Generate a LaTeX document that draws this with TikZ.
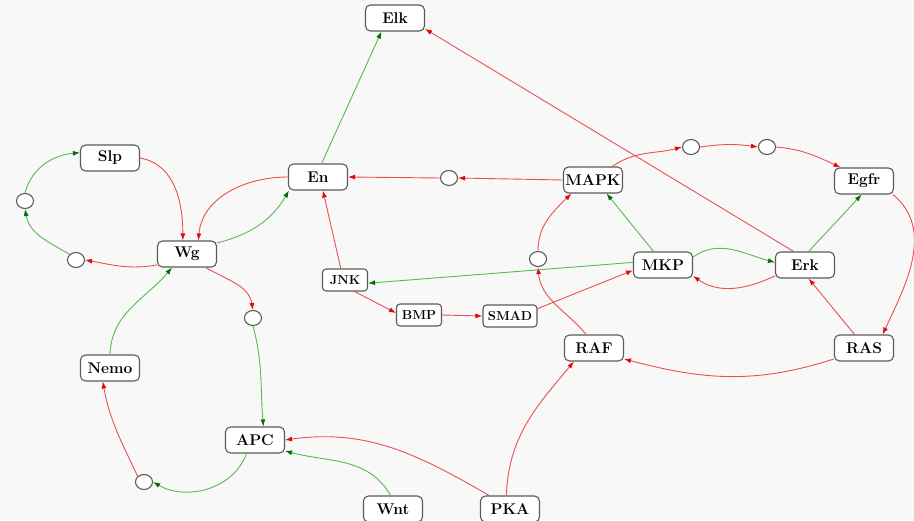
\documentclass[tikz,border=0pt]{standalone}
\usetikzlibrary{arrows.meta,shapes.geometric}
\definecolor{bg}{RGB}{248,248,248}
\definecolor{redl}{RGB}{235,80,80}
\definecolor{redt}{RGB}{225,10,10}
\definecolor{greenl}{RGB}{90,185,80}
\definecolor{greent}{RGB}{0,110,0}
\definecolor{border}{RGB}{90,90,90}
\begin{document}
\begin{tikzpicture}[x=1pt,y=1pt,
  gene/.style={draw=border,fill=white,rounded corners=5pt,line width=1.1pt,minimum width=59pt,minimum height=26pt,inner sep=1pt,font=\fontsize{15.5}{17}\selectfont\bfseries},
  sgene/.style={draw=border,fill=white,rounded corners=3.5pt,line width=1.1pt,minimum width=45pt,minimum height=22pt,inner sep=1pt,font=\fontsize{13}{15}\selectfont\bfseries},
  hub/.style={ellipse,draw=border,fill=white,line width=1.1pt,minimum width=17pt,minimum height=15pt,inner sep=0pt},
  inh/.style={draw=redl,line width=0.9pt,-{Latex[length=7pt,width=5pt,color=redt]}},
  act/.style={draw=greenl,line width=0.9pt,-{Latex[length=7pt,width=5pt,color=greent]}}
]
\fill[bg] (0,0) rectangle (914,520);
\useasboundingbox (0,0) rectangle (914,520);
% genes
\node[gene] (Elk) at (395,502) {Elk};
\node[gene] (Slp) at (110,362) {Slp};
\node[gene] (En) at (318,343) {En};
\node[gene] (Wg) at (187,266) {Wg};
\node[gene] (MAPK) at (593,340) {MAPK};
\node[gene] (Egfr) at (864,339) {Egfr};
\node[gene] (MKP) at (663,255) {MKP};
\node[gene] (Erk) at (805,255) {Erk};
\node[gene] (RAS) at (864,172) {RAS};
\node[gene] (RAF) at (594,172) {RAF};
\node[gene] (Nemo) at (110,152) {Nemo};
\node[gene] (APC) at (255,80) {APC};
\node[gene] (Wnt) at (393,11) {Wnt};
\node[gene] (PKA) at (510,11) {PKA};
\node[sgene] (JNK) at (345,240) {JNK};
\node[sgene] (BMP) at (419,205) {BMP};
\node[sgene,minimum width=54pt] (SMAD) at (510,204) {SMAD};
% hubs
\node[hub] (c1) at (25,319) {};
\node[hub] (c2) at (76,260) {};
\node[hub] (c3) at (253,202) {};
\node[hub] (c4) at (144,38) {};
\node[hub] (c5) at (449,342) {};
\node[hub] (c6) at (538,261) {};
\node[hub] (c7) at (691,373) {};
\node[hub] (c8) at (767,373) {};
% edges
\draw[act] (En.75) -- (Elk.225);
\draw[inh] (Erk.130) -- (Elk.-20);
\draw[inh] (MAPK.west) -- (c5.east);
\draw[inh] (c5.west) -- (En.east);
\draw[inh] (Slp.east) to[out=-10,in=90] (Wg.107);
\draw[inh] (En.west) to[out=180,in=85] (Wg.50);
\draw[act] (Wg.20) to[out=15,in=-120] (En.205);
\draw[inh] (Wg.200) to[out=190,in=-10] (c2.east);
\draw[act] (c2.north west) to[out=150,in=-80] (c1.south);
\draw[act] (c1.north) to[out=75,in=185] (Slp.170);
\draw[act] (Nemo.north) to[out=88,in=-130] (Wg.222);
\draw[inh] (Wg.-36) to[out=-30,in=100] (c3.north);
\draw[act] (c3.south) to[out=-75,in=95] (APC.58);
\draw[act] (APC.238) to[out=-110,in=-30] (c4.east);
\draw[inh] (c4.north west) to[out=115,in=-80] (Nemo.242);
\draw[inh] (PKA.147) to[out=150,in=8] (APC.east);
\draw[act] (Wnt.100) to[out=120,in=-15] (APC.-20);
\draw[inh] (PKA.105) to[out=88,in=-130] (RAF.214);
\draw[inh] (RAS.200) to[out=198,in=-15] (RAF.-20);
\draw[inh] (Egfr.-25) to[out=-40,in=65] (RAS.36);
\draw[inh] (RAS.125) -- (Erk.-75);
\draw[act] (Erk.75) -- (Egfr.-100);
\draw[act] (MKP.15) to[out=35,in=165] (Erk.175);
\draw[inh] (Erk.200) to[out=-155,in=-35] (MKP.-20);
\draw[act] (MKP.125) -- (MAPK.-45);
\draw[inh] (RAF.120) to[out=130,in=-85] (c6.south);
\draw[inh] (c6.north) to[out=90,in=-135] (MAPK.212);
\draw[act] (MKP.175) -- (JNK.-8);
\draw[inh] (JNK.-50) -- (BMP.175);
\draw[inh] (BMP.east) -- (SMAD.west);
\draw[inh] (SMAD.15) -- (MKP.190);
\draw[inh] (JNK.110) -- (En.-70);
\draw[inh] (MAPK.35) to[out=35,in=195] (c7.west);
\draw[inh] (c7.east) to[bend left=8] (c8.west);
\draw[inh] (c8.east) to[out=-5,in=155] (Egfr.150);
\end{tikzpicture}
\end{document}
